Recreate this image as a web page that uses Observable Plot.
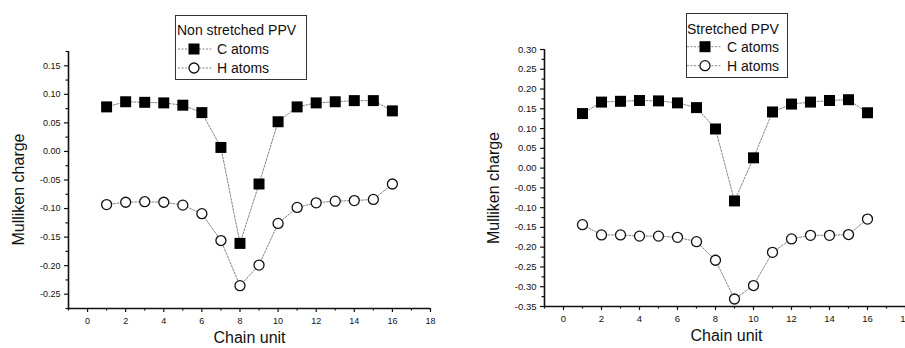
<!DOCTYPE html>
<html>
<head>
<meta charset="utf-8">
<script src="https://cdn.jsdelivr.net/npm/d3@7"></script>
<script src="https://cdn.jsdelivr.net/npm/@observablehq/plot@0.6"></script>
<style>
  html, body { margin: 0; padding: 0; background: #fff; }
  #wrap { position: relative; width: 905px; height: 348px; overflow: hidden; font-family: "Liberation Sans", Arial, sans-serif; }
  .panel { position: absolute; top: 0; }
  .legend { position: absolute; }
</style>
</head>
<body>
<div id="wrap"></div>
<script>
// ---- data ----
const chainUnits = [1,2,3,4,5,6,7,8,9,10,11,12,13,14,15,16];

// Non stretched PPV
const nonStretchedC = [0.078,0.087,0.086,0.085,0.081,0.068,0.007,-0.161,-0.057,0.052,0.078,0.085,0.087,0.089,0.089,0.071];
const nonStretchedH = [-0.093,-0.089,-0.088,-0.089,-0.094,-0.109,-0.156,-0.235,-0.199,-0.126,-0.098,-0.090,-0.087,-0.086,-0.084,-0.057];

// Stretched PPV
const stretchedC = [0.138,0.167,0.169,0.171,0.170,0.165,0.153,0.099,-0.083,0.026,0.142,0.162,0.167,0.171,0.173,0.140];
const stretchedH = [-0.143,-0.169,-0.169,-0.172,-0.172,-0.175,-0.186,-0.233,-0.331,-0.297,-0.213,-0.179,-0.170,-0.170,-0.168,-0.129];

const xMajorTicks = [0,2,4,6,8,10,12,14,16,18];
const xMinorTicks = [-1,1,3,5,7,9,11,13,15,17];
const yTicksLeft = [-0.25,-0.20,-0.15,-0.10,-0.05,0.00,0.05,0.10,0.15];
const yMinorLeft = [-0.275,-0.225,-0.175,-0.125,-0.075,-0.025,0.025,0.075,0.125,0.175];
const yTicksRight = [-0.35,-0.30,-0.25,-0.20,-0.15,-0.10,-0.05,0.00,0.05,0.10,0.15,0.20,0.25,0.30];
const yMinorRight = [-0.325,-0.275,-0.225,-0.175,-0.125,-0.075,-0.025,0.025,0.075,0.125,0.175,0.225,0.275];

const xLabel = "Chain unit";
const yLabel = "Mulliken charge";
const seriesNames = ["C atoms", "H atoms"];
const titleLeft = "Non stretched PPV";
const titleRight = "Stretched PPV";

// ---- helpers ----
const fmt = d => { const v = Math.round(d * 100) / 100; return (v === 0 ? 0 : v).toFixed(2); };
const toRows = (xs, ys) => xs.map((x, i) => ({x, y: ys[i]}));
const FONT = "Liberation Sans, Arial, sans-serif";

function panel(opts) {
  const {width, mL, mR, mT, mB, yDomain, yTicks, yMinor, C, H, tickFont, yLabDx, yLabDy, xLabDx} = opts;
  const cRows = toRows(chainUnits, C);
  const hRows = toRows(chainUnits, H);
  return Plot.plot({
    width, height: 348,
    marginLeft: mL, marginRight: mR, marginTop: mT, marginBottom: mB,
    style: {fontFamily: FONT, background: "transparent", color: "#111", overflow: "visible"},
    x: {domain: [-1, 18], axis: null},
    y: {domain: yDomain, axis: null},
    marks: [
      Plot.axisX(xMajorTicks, {anchor: "bottom", tickSize: 4, tickPadding: 5, fontSize: tickFont, tickFormat: d => String(d), stroke: "#111", strokeWidth: 1.2, label: null}),
      Plot.axisX(xMinorTicks, {anchor: "bottom", tickSize: 2.5, tickFormat: () => "", stroke: "#111", strokeWidth: 1.2, label: null}),
      Plot.axisY(yTicks, {anchor: "left", tickSize: 4, tickPadding: 4, fontSize: tickFont, tickFormat: fmt, stroke: "#111", strokeWidth: 1.2, label: null}),
      Plot.axisY(yMinor, {anchor: "left", tickSize: 2.5, tickFormat: () => "", stroke: "#111", strokeWidth: 1.2, label: null}),
      Plot.ruleY([yDomain[0]], {stroke: "#111", strokeWidth: 1.6}),
      Plot.ruleX([-1], {stroke: "#111", strokeWidth: 1.6}),
      Plot.line(cRows, {x: "x", y: "y", stroke: "#666", strokeWidth: 0.8, strokeDasharray: "2,1.5"}),
      Plot.line(hRows, {x: "x", y: "y", stroke: "#666", strokeWidth: 0.8, strokeDasharray: "2,1.5"}),
      Plot.dot(cRows, {x: "x", y: "y", symbol: "square", r: 6.2, fill: "#000", stroke: "none"}),
      Plot.dot(hRows, {x: "x", y: "y", symbol: "circle", r: 5, fill: "#fff", stroke: "#111", strokeWidth: 1.3}),
      Plot.text([xLabel], {frameAnchor: "bottom", textAnchor: "middle", lineAnchor: "middle", dy: 29, dx: xLabDx, fontSize: 16, fill: "#111"}),
      Plot.text([yLabel], {frameAnchor: "left", textAnchor: "middle", lineAnchor: "middle", rotate: -90, dx: yLabDx, dy: yLabDy, fontSize: 16, fill: "#111"})
    ]
  });
}

function legend(title, w, h, left, top, titleX, titleY, rowYs, lineX1, lineX2, markX, textX) {
  const div = document.createElement("div");
  div.className = "legend";
  div.style.left = left + "px";
  div.style.top = top + "px";
  const svg = d3.create("svg").attr("width", w).attr("height", h)
    .style("font-family", FONT).style("overflow", "visible");
  svg.append("rect").attr("x", 0.5).attr("y", 0.5).attr("width", w - 1).attr("height", h - 1)
    .attr("fill", "#fff").attr("stroke", "#333").attr("stroke-width", 1);
  svg.append("text").attr("x", titleX).attr("y", titleY).attr("font-size", 14).attr("fill", "#111").text(title);
  seriesNames.forEach((name, i) => {
    const cy = rowYs[i];
    svg.append("line").attr("x1", lineX1).attr("x2", lineX2).attr("y1", cy).attr("y2", cy)
      .attr("stroke", "#666").attr("stroke-width", 0.8).attr("stroke-dasharray", "2,1.5");
    if (i === 0) {
      svg.append("rect").attr("x", markX - 5.5).attr("y", cy - 5.5).attr("width", 11).attr("height", 11).attr("fill", "#000");
    } else {
      svg.append("circle").attr("cx", markX).attr("cy", cy).attr("r", 5).attr("fill", "#fff").attr("stroke", "#111").attr("stroke-width", 1.3);
    }
    svg.append("text").attr("x", textX).attr("y", cy + 5).attr("font-size", 14).attr("fill", "#111").text(name);
  });
  div.appendChild(svg.node());
  return div;
}

const wrap = document.getElementById("wrap");

const left = panel({
  width: 450, mL: 68, mR: 20, mT: 51, mB: 40,
  yDomain: [-0.275, 0.175], yTicks: yTicksLeft, yMinor: yMinorLeft,
  C: nonStretchedC, H: nonStretchedH, tickFont: 9,
  yLabDx: -50, yLabDy: 9.5, xLabDx: 0
});
left.classList.add("panel");
left.style.left = "0px";
wrap.appendChild(left);

const right = panel({
  width: 455, mL: 94, mR: 0, mT: 49, mB: 42,
  yDomain: [-0.35, 0.30], yTicks: yTicksRight, yMinor: yMinorRight,
  C: stretchedC, H: stretchedH, tickFont: 9.5,
  yLabDx: -50.5, yLabDy: 10, xLabDx: 1.5
});
right.classList.add("panel");
right.style.left = "450px";
wrap.appendChild(right);

wrap.appendChild(legend(titleLeft, 132, 65, 175, 15, 2, 20, [34, 53], 3, 38, 19, 42));
wrap.appendChild(legend(titleRight, 102, 65, 686, 13, 1, 21, [33.7, 52.7], 1, 36, 19, 41));
</script>
</body>
</html>
